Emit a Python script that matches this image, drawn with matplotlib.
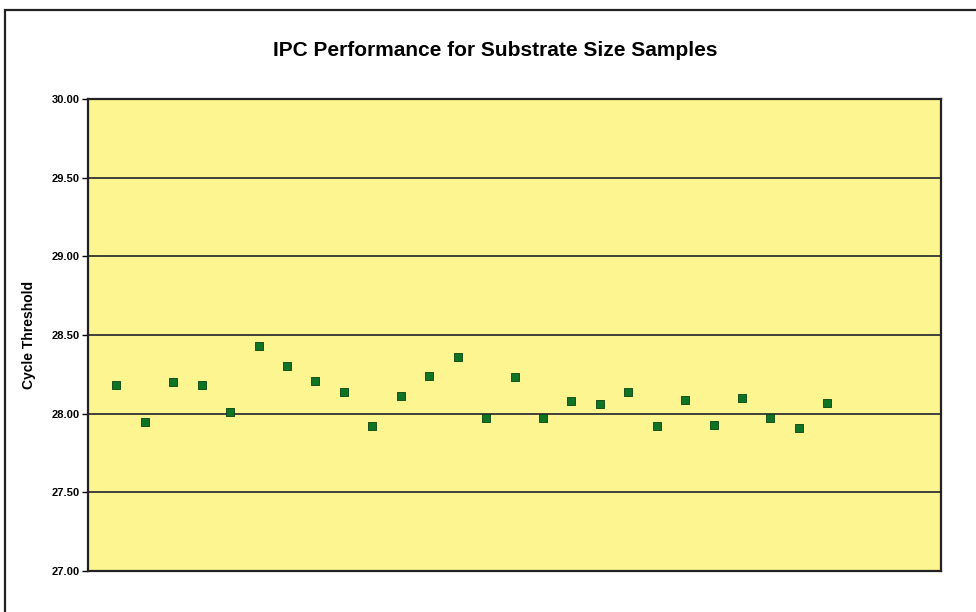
import matplotlib
matplotlib.use("Agg")
import matplotlib.pyplot as plt
from matplotlib.patches import Rectangle
import numpy as np

# sample index and cycle threshold
samples = np.arange(1, 27)
ct_values = [28.18, 27.95, 28.20, 28.18, 28.01, 28.43, 28.30, 28.21, 28.14, 27.92,
             28.11, 28.24, 28.36, 27.97, 28.23, 27.97, 28.08, 28.06, 28.14, 27.92,
             28.09, 27.93, 28.10, 27.97, 27.91, 28.07]
y_ticks = [27.0, 27.5, 28.0, 28.5, 29.0, 29.5, 30.0]

plt.rcParams['font.family'] = ['Liberation Sans', 'DejaVu Sans']

fig = plt.figure(figsize=(9.76, 6.12), dpi=100)
fig.patch.set_facecolor('white')

# outer chart border (cut off by the scan on the right and bottom)
fig.patches.append(Rectangle((5 / 976, -0.05), 1.2, 1 - 10 / 612 + 0.05,
                             transform=fig.transFigure, fill=False,
                             edgecolor='#222222', linewidth=1.6))

ax = fig.add_axes([88 / 976, 1 - 571 / 612, (941 - 88) / 976, (571 - 99) / 612])
ax.set_facecolor('#FCF590')
ax.scatter(samples, ct_values, marker='s', s=30, color='#0E7424',
           edgecolors='#064010', linewidths=0.6, zorder=3)

ax.set_xlim(0, 30)
ax.set_ylim(27, 30)
ax.set_yticks(y_ticks)
ax.set_yticklabels([f"{v:.2f}" for v in y_ticks], fontsize=8, fontweight='bold')
ax.set_xticks([])
ax.yaxis.grid(True, color='#333333', linewidth=1.3)
ax.set_axisbelow(True)
ax.tick_params(axis='y', direction='out', length=4, width=1, pad=2)
for sp in ax.spines.values():
    sp.set_linewidth(1.6)
    sp.set_color('#222222')

ax.set_ylabel('Cycle Threshold', fontsize=10, fontweight='bold', labelpad=11)
fig.text(495 / 976, 1 - 50 / 612, 'IPC Performance for Substrate Size Samples',
         ha='center', va='center', fontsize=15, fontweight='bold')

fig.savefig('out.png', dpi=100)
